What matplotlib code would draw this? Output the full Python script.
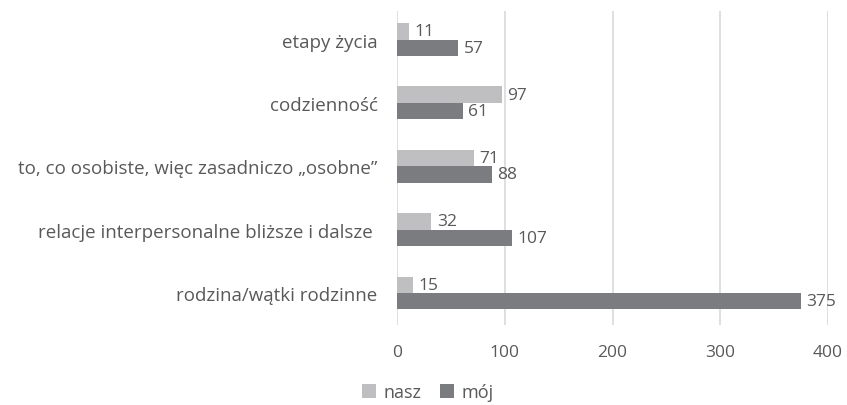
import matplotlib.pyplot as plt
import numpy as np

plt.rcParams['font.family'] = ['Open Sans', 'DejaVu Sans']

# data (bottom to top)
categories = ["rodzina/wątki rodzinne",
              "relacje interpersonalne bliższe i dalsze ",
              "to, co osobiste, więc zasadniczo „osobne”",
              "codzienność",
              "etapy życia"]
nasz = [15, 32, 71, 97, 11]
moj = [375, 107, 88, 61, 57]
xticks = [0, 100, 200, 300, 400]

c_nasz = "#BFBFC1"
c_moj = "#7B7C80"
c_text = "#595959"

fig = plt.figure(figsize=(8.47, 4.06), dpi=100)
ax = fig.add_axes([397 / 847, 1 - 326 / 406, 431 / 847, 314 / 406])

y = np.arange(len(categories))
h = 0.26
b1 = ax.barh(y + h / 2, nasz, height=h, color=c_nasz, label="nasz")
b2 = ax.barh(y - h / 2, moj, height=h, color=c_moj, label="mój")

# value labels
for bars in (b1, b2):
    for bar in bars:
        w = bar.get_width()
        ax.annotate(f"{w:.0f}", (w, bar.get_y() + bar.get_height() / 2),
                    xytext=(4, 0), textcoords="offset points",
                    ha="left", va="center", fontsize=12.5, color=c_text)

ax.set_xlim(0, 400)
ax.set_ylim(-0.505, 4.45)
ax.set_xticks(xticks)
ax.set_yticks(y)
ax.set_yticklabels(categories, fontsize=13.5)
ax.tick_params(axis="both", length=0, colors=c_text)
ax.tick_params(axis="x", pad=14, labelsize=12.5)
ax.tick_params(axis="y", pad=14)
ax.grid(axis="x", color="#D9D9D9", linewidth=1.2)
ax.set_axisbelow(True)
for s in ax.spines.values():
    s.set_visible(False)

fig.legend(loc="center", bbox_to_anchor=(0.505, 1 - 393 / 406), ncol=2,
           frameon=False, fontsize=13, labelcolor=c_text,
           handlelength=0.8, handleheight=0.8, handletextpad=0.4,
           columnspacing=1.0)

fig.savefig("out.png", dpi=100)
